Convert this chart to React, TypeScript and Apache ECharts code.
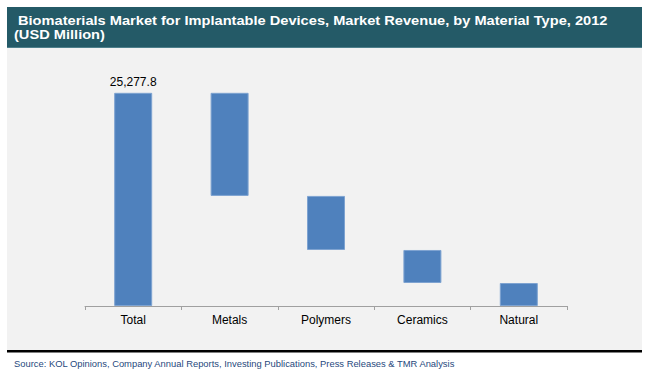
import React, { useEffect, useRef } from "react";
import * as echarts from "echarts";

const categories = ["Total", "Metals", "Polymers", "Ceramics", "Natural"];
const segmentValues = [25277.8, 12225, 6410, 3917, 2725.8];
const baseValues = [0, 13052.8, 6642.8, 2725.8, 0];
const totalLabel = "25,277.8";

const titleLine1 = "Biomaterials Market for Implantable Devices, Market Revenue, by Material Type, 2012";
const titleLine2 = "(USD Million)";
const sourceText =
  "Source: KOL Opinions, Company Annual Reports, Investing Publications, Press Releases & TMR Analysis";

export default function App() {
  const ref = useRef<HTMLDivElement>(null);
  useEffect(() => {
    document.body.style.margin = "0";
    const chart = echarts.init(ref.current!, null, { renderer: "svg" });
    const font = "Arial, 'Liberation Sans', sans-serif";
    const titleFont = `bold 12.5px ${font}`;
    chart.setOption({
      animation: false,
      backgroundColor: "#ffffff",
      graphic: [
        { type: "rect", z: -10, silent: true, shape: { x: 7, y: 7, width: 635, height: 41 }, style: { fill: "#245a67" } },
        { type: "rect", z: -10, silent: true, shape: { x: 7, y: 47, width: 635, height: 1 }, style: { fill: "#4d7f8b" } },
        { type: "rect", z: -10, silent: true, shape: { x: 7, y: 48, width: 635, height: 302 }, style: { fill: "#f2f2f2" } },
        { type: "rect", z: -10, silent: true, shape: { x: 7, y: 350, width: 635, height: 2.5 }, style: { fill: "#000000" } },
        {
          type: "text",
          x: 18,
          y: 20.5,
          scaleX: 1.17,
          style: { text: titleLine1, fill: "#ffffff", font: titleFont, verticalAlign: "middle" },
        },
        {
          type: "text",
          x: 14,
          y: 35,
          scaleX: 1.17,
          style: { text: titleLine2, fill: "#ffffff", font: titleFont, verticalAlign: "middle" },
        },
        {
          type: "text",
          x: 14,
          y: 363,
          style: {
            text: sourceText,
            fill: "#1f497d",
            font: `9.4px ${font}`,
            verticalAlign: "middle",
          },
        },
      ],
      grid: { left: 85, right: 83, top: 53, bottom: 69, containLabel: false },
      xAxis: {
        type: "category",
        data: categories,
        axisLine: { lineStyle: { color: "#a0a0a0", width: 1 } },
        axisTick: { show: true, length: 4, lineStyle: { color: "#a0a0a0" } },
        axisLabel: { color: "#000000", fontSize: 12, fontFamily: font, margin: 8 },
      },
      yAxis: {
        type: "value",
        min: 0,
        max: 30000,
        show: false,
        splitLine: { show: false },
      },
      series: [
        {
          type: "bar",
          stack: "w",
          data: baseValues,
          barWidth: 38,
          itemStyle: { color: "transparent" },
          silent: true,
        },
        {
          type: "bar",
          stack: "w",
          barWidth: 38,
          data: segmentValues.map((v, i) =>
            i === 0
              ? {
                  value: v,
                  label: {
                    show: true,
                    position: "top",
                    formatter: totalLabel,
                    color: "#000000",
                    fontSize: 12,
                    fontFamily: font,
                    distance: 5,
                  },
                }
              : { value: v }
          ),
          itemStyle: { color: "#4f81bd", borderColor: "#7ea3d1", borderWidth: 1 },
        },
      ],
    });
    return () => chart.dispose();
  }, []);
  return <div ref={ref} style={{ width: 650, height: 375 }} />;
}
